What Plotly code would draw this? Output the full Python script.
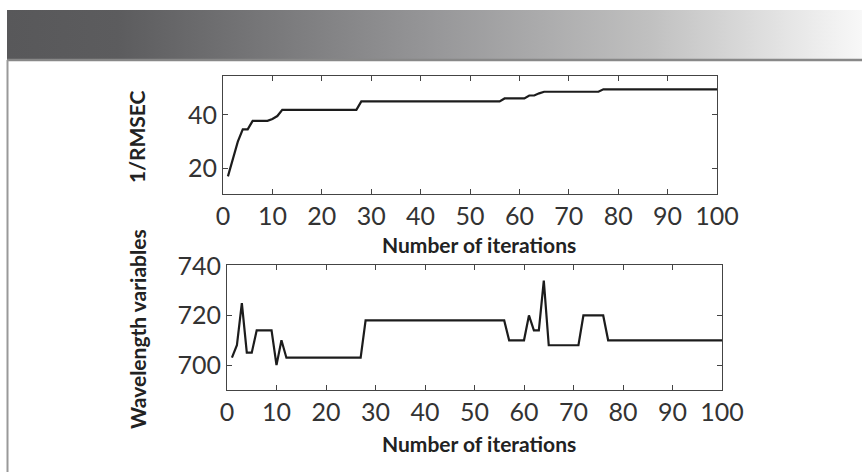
import base64
import plotly.graph_objects as go

W, H = 862, 472

iterations = list(range(1, 101))

rmsec_inv = [
    17.0, 24.0, 30.0, 34.6, 34.6, 37.8, 37.8, 37.8, 37.8, 38.5,
    39.6, 41.9, 41.9, 41.9, 41.9, 41.9, 41.9, 41.9, 41.9, 41.9,
    41.9, 41.9, 41.9, 41.9, 41.9, 41.9, 41.9, 45.1, 45.1, 45.1,
    45.1, 45.1, 45.1, 45.1, 45.1, 45.1, 45.1, 45.1, 45.1, 45.1,
    45.1, 45.1, 45.1, 45.1, 45.1, 45.1, 45.1, 45.1, 45.1, 45.1,
    45.1, 45.1, 45.1, 45.1, 45.1, 45.1, 46.2, 46.2, 46.2, 46.2,
    46.2, 47.3, 47.3, 48.1, 48.7, 48.7, 48.7, 48.7, 48.7, 48.7,
    48.7, 48.7, 48.7, 48.7, 48.7, 48.7, 49.6, 49.6, 49.6, 49.6,
    49.6, 49.6, 49.6, 49.6, 49.6, 49.6, 49.6, 49.6, 49.6, 49.6,
    49.6, 49.6, 49.6, 49.6, 49.6, 49.6, 49.6, 49.6, 49.6, 49.6,
]

wavelength = [
    703, 708, 725, 705, 705, 714, 714, 714, 714, 700,
    710, 703, 703, 703, 703, 703, 703, 703, 703, 703,
    703, 703, 703, 703, 703, 703, 703, 718, 718, 718,
    718, 718, 718, 718, 718, 718, 718, 718, 718, 718,
    718, 718, 718, 718, 718, 718, 718, 718, 718, 718,
    718, 718, 718, 718, 718, 718, 710, 710, 710, 710,
    720, 714, 714, 734, 708, 708, 708, 708, 708, 708,
    708, 720, 720, 720, 720, 720, 710, 710, 710, 710,
    710, 710, 710, 710, 710, 710, 710, 710, 710, 710,
    710, 710, 710, 710, 710, 710, 710, 710, 710, 710,
]

x_ticks = [0, 10, 20, 30, 40, 50, 60, 70, 80, 90, 100]
y1_ticks = [20, 40]
y2_ticks = [700, 720, 740]

x_title = "Number of iterations"
y1_title = "1/RMSEC"
y2_title = "Wavelength variables"


def px(x):
    return x / W


def py(y):
    return 1 - y / H


fig = go.Figure()
line_style = dict(color="#1c1c1c", width=2.2)
fig.add_trace(go.Scatter(x=iterations, y=rmsec_inv, mode="lines", line=line_style,
                         xaxis="x", yaxis="y", showlegend=False))
fig.add_trace(go.Scatter(x=iterations, y=wavelength, mode="lines", line=line_style,
                         xaxis="x2", yaxis="y2", showlegend=False))

axis_common = dict(
    showline=True, linecolor="#444", linewidth=1.2, mirror="ticks",
    ticks="inside", ticklen=5, tickcolor="#444", tickwidth=1.2,
    showgrid=False, zeroline=False, automargin=False,
    tickfont=dict(family="Lato", size=25, color="#333"),
)

fig.update_layout(
    template="none",
    width=W, height=H,
    margin=dict(l=0, r=0, t=0, b=0, pad=0),
    paper_bgcolor="white", plot_bgcolor="white",
    xaxis=dict(domain=[px(223), px(717)], anchor="y", range=[0, 100],
               tickvals=x_ticks, **axis_common),
    yaxis=dict(domain=[py(194), py(76)], anchor="x", range=[10.4, 54.6],
               tickvals=y1_ticks, **axis_common),
    xaxis2=dict(domain=[px(227), px(722)], anchor="y2", range=[0, 100],
                tickvals=x_ticks, **axis_common),
    yaxis2=dict(domain=[py(390), py(265)], anchor="x2", range=[690, 740.3],
                tickvals=y2_ticks, **axis_common),
)

title_font = dict(family="Lato", size=21, color="#222", weight=700)
annotations = [
    dict(text=x_title, x=px(479), y=py(245), xref="paper", yref="paper",
         showarrow=False, font=title_font, xanchor="center", yanchor="middle"),
    dict(text=x_title, x=px(479), y=py(443), xref="paper", yref="paper",
         showarrow=False, font=title_font, xanchor="center", yanchor="middle"),
    dict(text=y1_title, x=px(136), y=py(137), xref="paper", yref="paper",
         showarrow=False, font=title_font, textangle=-90,
         xanchor="center", yanchor="middle"),
    dict(text=y2_title, x=px(137), y=py(329), xref="paper", yref="paper",
         showarrow=False, font=title_font, textangle=-90,
         xanchor="center", yanchor="middle"),
]
fig.update_layout(annotations=annotations)

# decorative header band: horizontal gray gradient as an SVG image
band_svg = (
    '<svg xmlns="http://www.w3.org/2000/svg" width="855" height="50" '
    'preserveAspectRatio="none" viewBox="0 0 855 50">'
    '<defs><linearGradient id="g" x1="0" x2="1" y1="0" y2="0">'
    '<stop offset="0" stop-color="#58585a"/>'
    '<stop offset="0.13" stop-color="#5c5c5e"/>'
    '<stop offset="0.22" stop-color="#6a6a6c"/>'
    '<stop offset="0.496" stop-color="#969698"/>'
    '<stop offset="0.752" stop-color="#c0c0c0"/>'
    '<stop offset="0.927" stop-color="#e8e8e8"/>'
    '<stop offset="1" stop-color="#f8f8f8"/>'
    '</linearGradient></defs>'
    '<rect x="0" y="0" width="855" height="50" fill="url(#g)"/></svg>'
)
band_uri = "data:image/svg+xml;base64," + base64.b64encode(band_svg.encode()).decode()
fig.add_layout_image(dict(source=band_uri, xref="paper", yref="paper",
                          x=px(7), y=py(10), sizex=px(862) - px(7),
                          sizey=py(10) - py(60), sizing="stretch",
                          xanchor="left", yanchor="top", layer="below"))

shapes = [
    dict(type="line", xref="paper", yref="paper",
         x0=px(7), x1=1, y0=py(60), y1=py(60),
         line=dict(color="#888888", width=2.5)),
    dict(type="line", xref="paper", yref="paper",
         x0=px(7.5), x1=px(7.5), y0=py(60), y1=0,
         line=dict(color="#999999", width=2)),
]
fig.update_layout(shapes=shapes)

fig.write_html("out.html")
